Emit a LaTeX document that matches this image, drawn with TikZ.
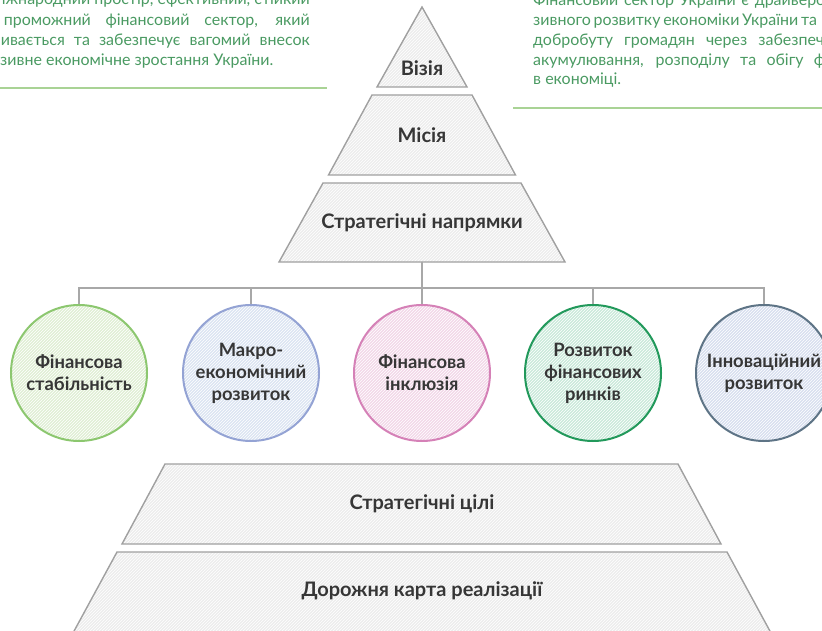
\documentclass[tikz,border=0pt]{standalone}
\usepackage{fontspec}
\setmainfont{Lato}
\usetikzlibrary{patterns}
\definecolor{txtgreen}{HTML}{4A9A62}
\definecolor{linegreen}{HTML}{A9D395}
\definecolor{pyrfill}{HTML}{EDEDED}
\definecolor{pyrdraw}{HTML}{A0A0A0}
\definecolor{labeltxt}{HTML}{363636}
\definecolor{conncol}{HTML}{A8A8A8}
\definecolor{cAd}{HTML}{8CC76F}\definecolor{cAf}{HTML}{E0EFD5}
\definecolor{cBd}{HTML}{94A3D4}\definecolor{cBf}{HTML}{DCE4F2}
\definecolor{cCd}{HTML}{D581B7}\definecolor{cCf}{HTML}{F3D8E9}
\definecolor{cDd}{HTML}{22995B}\definecolor{cDf}{HTML}{CAEADA}
\definecolor{cEd}{HTML}{5E7486}\definecolor{cEf}{HTML}{D8DFEF}
\begin{document}
\begin{tikzpicture}[x=1pt,y=-1pt,
  toptext/.style={text=txtgreen,font=\fontsize{16}{20}\selectfont,inner sep=0pt},
  gline/.style={draw=linegreen,line width=1.8pt},
  pyr/.style={preaction={fill=pyrfill},pattern=north east lines,pattern color=white,draw=pyrdraw,line width=1.4pt,line join=miter},
  pyrlabel/.style={text=labeltxt,font=\bfseries\fontsize{20}{22}\selectfont,inner sep=0pt},
  conn/.style={draw=conncol,line width=1.2pt},
  dircircle/.style={circle,minimum size=136pt,inner sep=0pt,line width=2pt,align=center,
     text=labeltxt,font=\bfseries\fontsize{18.4}{22}\selectfont,pattern=north east lines,pattern color=white},
]
\useasboundingbox (0,0) rectangle (822,631);

% top text blocks
\node[toptext,anchor=base east] (l1) at (310,5) {\makebox[308pt][s]{іжнародний простір, ефективний, стійкий}};
\node[toptext,anchor=base east] (l2) at (310,25.5) {\makebox[306pt][s]{проможний фінансовий сектор, який}};
\node[toptext,anchor=base east] (l3) at (310,46) {\makebox[309pt][s]{ивається та забезпечує вагомий внесок}};
\node[toptext,anchor=base west] (l4) at (0,66) {зивне економічне зростання України.};
\draw[gline] (0,88) -- (327,88);

\node[toptext,anchor=base west] (r1) at (533,6) {\makebox[292pt][s]{Фінансовий сектор України є драйверо}};
\node[toptext,anchor=base west] (r2) at (533,26) {\makebox[282pt][s]{зивного розвитку економіки України та}};
\node[toptext,anchor=base west] (r3) at (533,46) {\makebox[291pt][s]{добробуту громадян через забезпеч}};
\node[toptext,anchor=base west] (r4) at (533,65.5) {\makebox[292pt][s]{акумулювання, розподілу та обігу ф}};
\node[toptext,anchor=base west] (r5) at (533,85) {в економіці.};
\draw[gline] (513,108) -- (822,108);

% upper pyramid
\path[pyr] (422,7) -- (467,87) -- (377,87) -- cycle;
\path[pyr] (372,95) -- (472,95) -- (515.5,175) -- (328.5,175) -- cycle;
\path[pyr] (323,183) -- (521,183) -- (565,262) -- (279,262) -- cycle;
\node[pyrlabel] (vis) at (422,68) {Візія};
\node[pyrlabel] (mis) at (422,135) {Місія};
\node[pyrlabel] (dir) at (422,223) {Стратегічні напрямки};

% circles
\node[dircircle,draw=cAd,preaction={fill=cAf}] (c1) at (79,373) {Фінансова\\стабільність};
\node[dircircle,draw=cBd,preaction={fill=cBf}] (c2) at (251,373) {Макро-\\економічний\\розвиток};
\node[dircircle,draw=cCd,preaction={fill=cCf}] (c3) at (422,373) {Фінансова\\інклюзія};
\node[dircircle,draw=cDd,preaction={fill=cDf}] (c4) at (593,373) {Розвиток\\фінансових\\ринків};
\node[dircircle,draw=cEd,preaction={fill=cEf}] (c5) at (764,373) {Інноваційний\\розвиток};

% connectors
\coordinate (sdb) at (422,262);
\coordinate (bar) at (422,288);
\draw[conn] (sdb) -- (c3.north);
\draw[conn] (bar) -| (c1.north);
\draw[conn] (bar) -| (c2.north);
\draw[conn] (bar) -| (c4.north);
\draw[conn] (bar) -| (c5.north);

% lower pyramid
\path[pyr] (165,464) -- (678,464) -- (721,544) -- (122,544) -- cycle;
\path[pyr] (117,552) -- (727,552) -- (771,633) -- (73,633) -- cycle;
\node[pyrlabel] (goals) at (422,504) {Стратегічні цілі};
\node[pyrlabel] (road) at (422,591) {Дорожня карта реалізації};
\end{tikzpicture}
\end{document}
